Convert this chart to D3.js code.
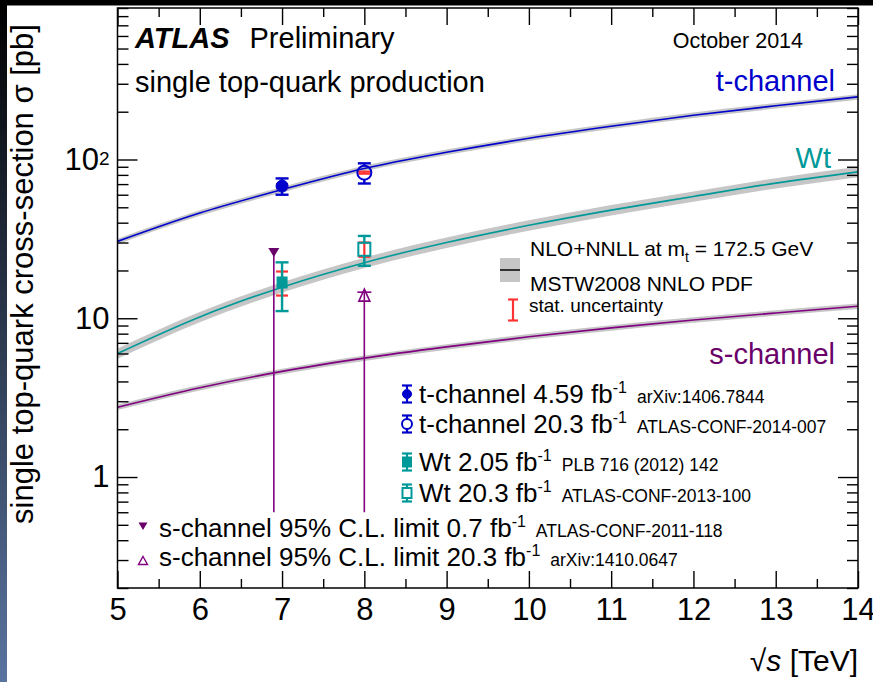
<!DOCTYPE html>
<html>
<head>
<meta charset="utf-8">
<script src="https://cdn.jsdelivr.net/npm/d3@7"></script>
<style>
  html, body { margin: 0; padding: 0; background: #fff; }
  svg { display: block; }
</style>
</head>
<body>
<svg id="chart" width="873" height="682"></svg>
<script>
// ---- data -------------------------------------------------------------
// centre-of-mass energy grid (TeV) for the NLO+NNLL predictions
const sqrtS = [5, 6, 7, 8, 9, 10, 11, 12, 13, 14];
// predicted cross-sections (pb)
const tChannelTheory = [30.5, 46.0, 64.6, 87.8, 111, 136, 162, 190, 218, 248];
const wtTheory       = [6.0, 10.2, 15.7, 22.4, 30.0, 38.5, 48.0, 58.5, 71.0, 83.6];
const sChannelTheory = [2.75, 3.65, 4.63, 5.61, 6.6, 7.65, 8.7, 9.75, 10.8, 11.9];
// relative scale+PDF uncertainty of each prediction
const tChannelUnc = 0.04;
const wtUnc       = 0.075;
const sChannelUnc = 0.04;

// measurements: value, statistical and total uncertainty (pb)
const measSqrtS  = [7, 8, 7, 8];
const measValue  = [68, 82.6, 16.8, 27.2];
const measStat   = [2, 1.2, 2.9, 2.8];
const measTotal  = [8, 12, 5.7, 5.8];
const measProc   = ["t", "t", "Wt", "Wt"];
const measFilled = [true, false, true, false];
const measLabel  = ["t-channel 4.59 fb", "t-channel 20.3 fb", "Wt 2.05 fb", "Wt 20.3 fb"];
const measRef    = ["arXiv:1406.7844", "ATLAS-CONF-2014-007", "PLB 716 (2012) 142", "ATLAS-CONF-2013-100"];

// s-channel 95% C.L. upper limits (pb)
const limitSqrtS  = [6.9, 8];
const limitValue  = [26.5, 14.6];
const limitFloor  = [0.6, 0.6];
const limitFilled = [true, false];
const limitLabel  = ["s-channel 95% C.L. limit 0.7 fb", "s-channel 95% C.L. limit 20.3 fb"];
const limitRef    = ["ATLAS-CONF-2011-118", "arXiv:1410.0647"];

// axis ticks
const xTicks = [5, 6, 7, 8, 9, 10, 11, 12, 13, 14];
const yTicks = [1, 10, 100];
const yTickLabels = ["1", "10", "10|2"];

// ---- setup ------------------------------------------------------------
const FONT = "'Liberation Sans', Arial, Helvetica, sans-serif";
const W = 873, H = 682;
const plot = { left: 117.5, right: 858, top: 8, bottom: 588 };
const colors = { t: "#0000cc", Wt: "#009999", s: "#6a006a", sLine: "#800080", stat: "#ff3333", band: "#c6c6c6" };

const svg = d3.select("#chart").attr("font-family", FONT);
const x = d3.scaleLinear().domain([5, 14]).range([plot.left, plot.right]);
const y = d3.scaleLog().domain([0.2, 900]).range([plot.bottom, plot.top]);

// page backdrop: dark top band and gradient edge on the left
const defs = svg.append("defs");
const grad = defs.append("linearGradient").attr("id", "edge").attr("x1", 0).attr("y1", 0).attr("x2", 0).attr("y2", 1);
grad.append("stop").attr("offset", "0%").attr("stop-color", "#000");
grad.append("stop").attr("offset", "100%").attr("stop-color", "#5a74a0");
defs.append("clipPath").attr("id", "plotclip").append("rect")
  .attr("x", plot.left).attr("y", plot.top)
  .attr("width", plot.right - plot.left).attr("height", plot.bottom - plot.top);

svg.append("rect").attr("width", W).attr("height", H).attr("fill", "#fff");
svg.append("rect").attr("x", 0).attr("y", 0).attr("width", 7).attr("height", H).attr("fill", "url(#edge)");
svg.append("rect").attr("x", 0).attr("y", 0).attr("width", W).attr("height", 5.5).attr("fill", "#000");

// ---- theory curves ----------------------------------------------------
const theory = [
  { values: tChannelTheory, unc: tChannelUnc, color: colors.t },
  { values: wtTheory, unc: wtUnc, color: colors.Wt },
  { values: sChannelTheory, unc: sChannelUnc, color: colors.sLine }
];
const curves = svg.append("g").attr("clip-path", "url(#plotclip)");
theory.forEach(c => {
  const band = d3.area()
    .x((d, i) => x(sqrtS[i]))
    .y0(d => y(d * (1 - c.unc)))
    .y1(d => y(d * (1 + c.unc)))
    .curve(d3.curveMonotoneX);
  const line = d3.line()
    .x((d, i) => x(sqrtS[i]))
    .y(d => y(d))
    .curve(d3.curveMonotoneX);
  curves.append("path").attr("d", band(c.values)).attr("fill", colors.band);
  curves.append("path").attr("d", line(c.values)).attr("fill", "none")
    .attr("stroke", c.color).attr("stroke-width", 1.6);
});

// ---- axes -------------------------------------------------------------
const xMinor = d3.range(5.5, 14, 1);
const yMinor = [];
[0.1, 1, 10, 100].forEach(dec => d3.range(2, 10).forEach(k => {
  const v = dec * k;
  if (v >= 0.2 && v <= 900) yMinor.push(+v.toPrecision(3));
}));

function styleAxis(g) {
  g.select(".domain").remove();
  g.selectAll(".tick line").attr("stroke", "#000").attr("stroke-width", 1.4);
  g.attr("font-family", FONT);
}

// bottom
const gxB = svg.append("g").attr("transform", `translate(0,${plot.bottom})`)
  .call(d3.axisBottom(x).tickValues(xTicks).tickSizeInner(-17).tickSizeOuter(0)
    .tickPadding(10).tickFormat(d3.format("d")));
styleAxis(gxB);
gxB.attr("font-size", 31);
gxB.selectAll("text").attr("fill", "#000");
svg.append("g").attr("transform", `translate(0,${plot.bottom})`)
  .call(d3.axisBottom(x).tickValues(xMinor).tickSizeInner(-9).tickSizeOuter(0).tickFormat(""))
  .call(styleAxis);
// top
svg.append("g").attr("transform", `translate(0,${plot.top})`)
  .call(d3.axisTop(x).tickValues(xTicks).tickSizeInner(-17).tickSizeOuter(0).tickFormat(""))
  .call(styleAxis);
svg.append("g").attr("transform", `translate(0,${plot.top})`)
  .call(d3.axisTop(x).tickValues(xMinor).tickSizeInner(-9).tickSizeOuter(0).tickFormat(""))
  .call(styleAxis);
// left
const gyL = svg.append("g").attr("transform", `translate(${plot.left},0)`)
  .call(d3.axisLeft(y).tickValues(yTicks).tickSizeInner(-20).tickSizeOuter(0).tickPadding(8)
    .tickFormat((d, i) => ""));
styleAxis(gyL);
gyL.attr("font-size", 31);
gyL.selectAll(".tick text").each(function (d, i) {
  const parts = yTickLabels[i].split("|");
  const t = d3.select(this).attr("fill", "#000");
  t.append("tspan").text(parts[0]);
  if (parts[1]) t.append("tspan").attr("font-size", 19).attr("dy", -5).text(parts[1]);
});
svg.append("g").attr("transform", `translate(${plot.left},0)`)
  .call(d3.axisLeft(y).tickValues(yMinor).tickSizeInner(-11).tickSizeOuter(0).tickFormat(""))
  .call(styleAxis);
// right
svg.append("g").attr("transform", `translate(${plot.right},0)`)
  .call(d3.axisRight(y).tickValues(yTicks).tickSizeInner(-20).tickSizeOuter(0).tickFormat(""))
  .call(styleAxis);
svg.append("g").attr("transform", `translate(${plot.right},0)`)
  .call(d3.axisRight(y).tickValues(yMinor).tickSizeInner(-11).tickSizeOuter(0).tickFormat(""))
  .call(styleAxis);

// frame
svg.append("rect")
  .attr("x", plot.left).attr("y", plot.top)
  .attr("width", plot.right - plot.left).attr("height", plot.bottom - plot.top)
  .attr("fill", "none").attr("stroke", "#000").attr("stroke-width", 1.5);

// axis titles
svg.append("text")
  .attr("transform", "translate(33,274) rotate(-90)")
  .attr("text-anchor", "middle").attr("font-size", 31).attr("fill", "#000")
  .text("single top-quark cross-section σ [pb]");
const xt = svg.append("text").attr("x", plot.right).attr("y", 671)
  .attr("text-anchor", "end").attr("font-size", 30).attr("fill", "#000");
xt.append("tspan").text("√");
xt.append("tspan").attr("font-style", "italic").text("s");
xt.append("tspan").text(" [TeV]");

// ---- header texts -----------------------------------------------------
const hdr = svg.append("text").attr("x", 135).attr("y", 48).attr("font-size", 29).attr("fill", "#000");
hdr.append("tspan").attr("font-weight", "bold").attr("font-style", "italic").text("ATLAS");
hdr.append("tspan").attr("dx", 20).text("Preliminary");
svg.append("text").attr("x", 135).attr("y", 92).attr("font-size", 29).attr("fill", "#000")
  .text("single top-quark production");
svg.append("text").attr("x", 803).attr("y", 48).attr("text-anchor", "end")
  .attr("font-size", 21.5).attr("fill", "#000").text("October 2014");

// curve labels
svg.append("text").attr("x", 835).attr("y", 91).attr("text-anchor", "end")
  .attr("font-size", 29).attr("fill", colors.t).text("t-channel");
svg.append("text").attr("x", 831).attr("y", 168).attr("text-anchor", "end")
  .attr("font-size", 29).attr("fill", colors.Wt).text("Wt");
svg.append("text").attr("x", 835).attr("y", 364).attr("text-anchor", "end")
  .attr("font-size", 29).attr("fill", colors.s).text("s-channel");

// ---- markers ----------------------------------------------------------
function drawMarker(g, shape, filled, color, cx, cy, s) {
  if (shape === "circle") {
    g.append("circle").attr("cx", cx).attr("cy", cy).attr("r", s)
      .attr("fill", filled ? color : "none").attr("stroke", color).attr("stroke-width", filled ? 1 : 2);
  } else if (shape === "square") {
    g.append("rect").attr("x", cx - s).attr("y", cy - s - 0.5).attr("width", 2 * s).attr("height", 2 * s + 1)
      .attr("fill", filled ? color : "none").attr("stroke", color).attr("stroke-width", filled ? 1 : 2);
  }
}
function errorBar(g, cx, yTop, yBot, capHalf, color, width, gapTop, gapBot) {
  if (gapTop === undefined) {
    g.append("line").attr("x1", cx).attr("x2", cx).attr("y1", yTop).attr("y2", yBot)
      .attr("stroke", color).attr("stroke-width", width);
  } else {
    g.append("line").attr("x1", cx).attr("x2", cx).attr("y1", yTop).attr("y2", gapTop)
      .attr("stroke", color).attr("stroke-width", width);
    g.append("line").attr("x1", cx).attr("x2", cx).attr("y1", gapBot).attr("y2", yBot)
      .attr("stroke", color).attr("stroke-width", width);
  }
  [yTop, yBot].forEach(yy => g.append("line")
    .attr("x1", cx - capHalf).attr("x2", cx + capHalf).attr("y1", yy).attr("y2", yy)
    .attr("stroke", color).attr("stroke-width", width));
}

const marks = svg.append("g");
// s-channel limits: vertical line from the limit downwards
limitSqrtS.forEach((e, i) => {
  const cx = x(e), cy = y(limitValue[i]);
  marks.append("line").attr("x1", cx).attr("x2", cx).attr("y1", cy).attr("y2", y(limitFloor[i]))
    .attr("stroke", colors.sLine).attr("stroke-width", 1.6);
  if (limitFilled[i]) {
    marks.append("path").attr("d", `M${cx - 5.5},${cy - 3}L${cx + 5.5},${cy - 3}L${cx},${cy + 6}Z`)
      .attr("fill", colors.s);
  } else {
    marks.append("line").attr("x1", cx - 7).attr("x2", cx + 7).attr("y1", cy).attr("y2", cy)
      .attr("stroke", colors.sLine).attr("stroke-width", 1.6);
    marks.append("path").attr("d", `M${cx},${cy - 3}L${cx + 5.5},${cy + 9}L${cx - 5.5},${cy + 9}Z`)
      .attr("fill", "none").attr("stroke", colors.sLine).attr("stroke-width", 1.6);
  }
});

measSqrtS.forEach((e, i) => {
  const cx = x(e), cy = y(measValue[i]);
  const color = measProc[i] === "t" ? colors.t : colors.Wt;
  const shape = measProc[i] === "t" ? "circle" : "square";
  const half = shape === "circle" ? (measFilled[i] ? 6 : 7) : (measFilled[i] ? 5 : 6);
  // statistical part
  errorBar(marks, cx, y(measValue[i] + measStat[i]), y(measValue[i] - measStat[i]), 6, colors.stat, 2.2);
  // total uncertainty
  errorBar(marks, cx, y(measValue[i] + measTotal[i]), y(measValue[i] - measTotal[i]), 6.5, color, 2.4,
    cy - half, cy + half);
  drawMarker(marks, shape, measFilled[i], color, cx, cy, half);
});

// ---- legends ----------------------------------------------------------
const leg = svg.append("g").attr("fill", "#000");

// theory entry
leg.append("rect").attr("x", 500).attr("y", 258).attr("width", 20).attr("height", 24).attr("fill", colors.band);
leg.append("line").attr("x1", 500).attr("x2", 520).attr("y1", 270).attr("y2", 270)
  .attr("stroke", "#000").attr("stroke-width", 1.5);
const th = leg.append("text").attr("x", 530).attr("y", 256).attr("font-size", 21);
th.append("tspan").text("NLO+NNLL at m");
th.append("tspan").attr("font-size", 14).attr("dy", 6).text("t");
th.append("tspan").attr("dy", -6).text(" = 172.5 GeV");
leg.append("text").attr("x", 530).attr("y", 291).attr("font-size", 21).text("MSTW2008 NNLO PDF");
errorBar(leg, 513, 299.5, 320.5, 5, colors.stat, 2.2);
leg.append("text").attr("x", 529).attr("y", 312).attr("font-size", 19).text("stat. uncertainty");

function legendText(xPos, base, main, ref) {
  const t = leg.append("text").attr("x", xPos).attr("y", base).attr("font-size", 26);
  t.append("tspan").text(main);
  t.append("tspan").attr("font-size", 16).attr("dy", -10).text("-1");
  t.append("tspan").attr("font-size", 17.5).attr("dy", 10).attr("dx", 10).text(ref);
}

// measurement entries
const measRowBase = [403, 433, 471, 502];
measLabel.forEach((lab, i) => {
  const base = measRowBase[i], mx = 407, my = base - 9;
  const color = measProc[i] === "t" ? colors.t : colors.Wt;
  const shape = measProc[i] === "t" ? "circle" : "square";
  const half = shape === "circle" ? (measFilled[i] ? 4.5 : 5) : (measFilled[i] ? 4.5 : 4.5);
  errorBar(leg, mx, my - 8.5, my + 8.5, 5, color, 2.2, my - half, my + half);
  drawMarker(leg, shape, measFilled[i], color, mx, my, half);
  legendText(419, base, lab, measRef[i]);
});

// limit entries
const limitRowBase = [537, 566];
limitLabel.forEach((lab, i) => {
  const base = limitRowBase[i], mx = 143;
  if (limitFilled[i]) {
    const my = base - 11;
    leg.append("path").attr("d", `M${mx - 4.5},${my - 3.5}L${mx + 4.5},${my - 3.5}L${mx},${my + 4}Z`)
      .attr("fill", colors.s);
  } else {
    const my = base - 5.5;
    leg.append("path").attr("d", `M${mx},${my - 4}L${mx + 4.5},${my + 4}L${mx - 4.5},${my + 4}Z`)
      .attr("fill", "none").attr("stroke", colors.sLine).attr("stroke-width", 1.4);
  }
  legendText(159, base, lab, limitRef[i]);
});
</script>
</body>
</html>
